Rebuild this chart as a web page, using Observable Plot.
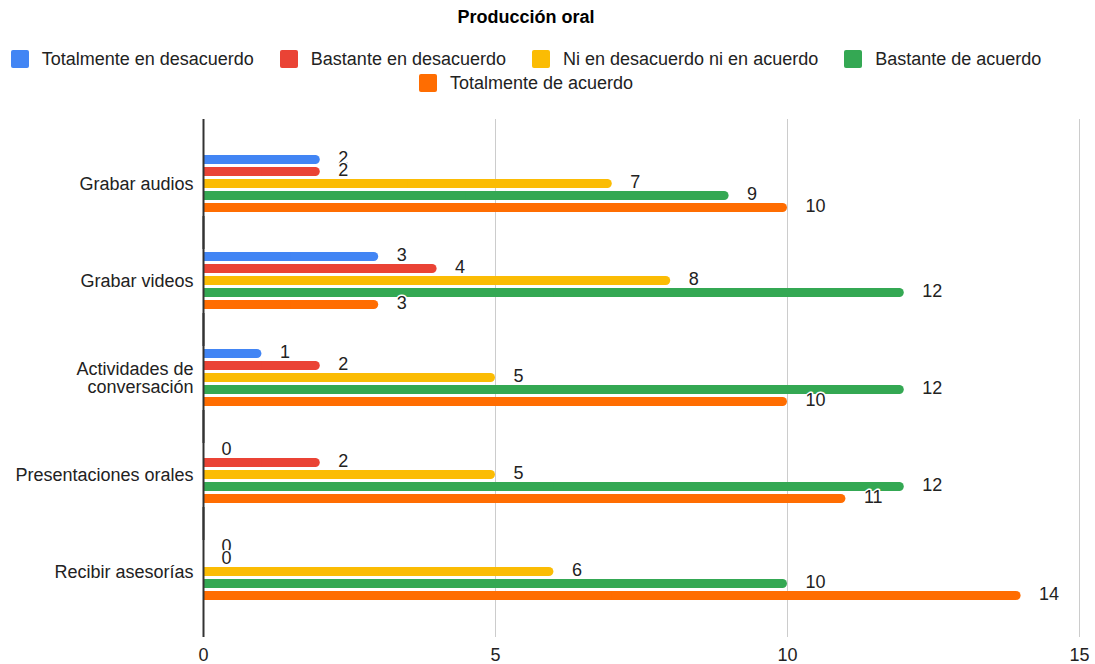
<!DOCTYPE html>
<html>
<head>
<meta charset="utf-8">
<script src="https://cdn.jsdelivr.net/npm/d3@7"></script>
<script src="https://cdn.jsdelivr.net/npm/@observablehq/plot@0.6"></script>
<style>
  html, body { margin: 0; padding: 0; background: #fff; }
  body { width: 1095px; height: 664px; overflow: hidden; font-family: "Liberation Sans", Arial, Helvetica, sans-serif; color: #222; }
  #title { width: 1052px; height: 34px; line-height: 34px; text-align: center; font-weight: bold; font-size: 18px; color: #000; }
  #legend { width: 1052px; height: 48px; margin-top: 13px; margin-bottom: 5px; display: flex; flex-wrap: wrap; justify-content: center; column-gap: 26px; font-size: 18px; }
  .item { display: flex; align-items: center; height: 24px; line-height: 24px; white-space: nowrap; }
  .swatch { width: 18px; height: 18px; border-radius: 2px; margin-right: 13px; }
  #chart svg { display: block; }
</style>
</head>
<body>
<div id="title">Producción oral</div>
<div id="legend"></div>
<div id="chart"></div>
<script>
// Activities rated in the survey
const categories = [
  "Grabar audios",
  "Grabar videos",
  "Actividades de\nconversación",
  "Presentaciones orales",
  "Recibir asesorías"
];

// Answer options (series) and their colours
const series = [
  "Totalmente en desacuerdo",
  "Bastante en desacuerdo",
  "Ni en desacuerdo ni en acuerdo",
  "Bastante de acuerdo",
  "Totalmente de acuerdo"
];
const colors = ["#4285F4", "#EA4335", "#FBBC04", "#34A853", "#FF6D01"];

// Number of answers per activity, one array per option
const totalmenteDesacuerdo = [2, 3, 1, 0, 0];
const bastanteDesacuerdo   = [2, 4, 2, 2, 0];
const niDesacuerdoNiAcuerdo = [7, 8, 5, 5, 6];
const bastanteAcuerdo      = [9, 12, 12, 12, 10];
const totalmenteAcuerdo    = [10, 3, 10, 11, 14];

const xTicks = [0, 5, 10, 15];
const gridTicks = [5, 10, 15];

const seriesValues = [
  totalmenteDesacuerdo,
  bastanteDesacuerdo,
  niDesacuerdoNiAcuerdo,
  bastanteAcuerdo,
  totalmenteAcuerdo
];

const data = [];
categories.forEach((category, i) => {
  series.forEach((s, j) => {
    data.push({category, series: s, value: seriesValues[j][i]});
  });
});

// Legend
const legend = document.getElementById("legend");
series.forEach((s, j) => {
  const item = document.createElement("div");
  item.className = "item";
  const sw = document.createElement("div");
  sw.className = "swatch";
  sw.style.background = colors[j];
  const label = document.createElement("span");
  label.textContent = s;
  item.appendChild(sw);
  item.appendChild(label);
  legend.appendChild(item);
});

const font = "'Liberation Sans', Arial, Helvetica, sans-serif";

const chart = Plot.plot({
  width: 1095,
  height: 564,
  marginLeft: 203,
  marginRight: 16,
  marginTop: 34,
  marginBottom: 44,
  style: {fontFamily: font, fontSize: "18px", color: "#222", background: "#fff", overflow: "visible"},
  x: {domain: [0, 15], ticks: xTicks, tickSize: 0, tickPadding: 28, label: null},
  y: {domain: series, axis: null, paddingInner: 0.22, paddingOuter: 1.63},
  fy: {domain: categories, axis: "left", padding: 0, tickSize: 0, tickPadding: 10, label: null},
  color: {domain: series, range: colors},
  marks: [
    // vertical grid lines, stretched a little beyond the bars
    Plot.ruleX(gridTicks, {stroke: "#cccccc", strokeWidth: 1, insetTop: -16, insetBottom: -17}),
    // rounded bars
    Plot.barX(data, {x: "value", y: "series", fy: "category", fill: "series", rx: 4.5}),
    // square off the left end of each bar against the axis
    Plot.barX(data, {x1: 0, x2: d => d.value / 2, y: "series", fy: "category", fill: "series"}),
    // baseline at zero
    Plot.ruleX([0], {stroke: "#333", strokeWidth: 2, insetTop: -16, insetBottom: -17}),
    // value labels
    Plot.text(data, {
      x: "value", y: "series", fy: "category",
      text: d => String(d.value),
      textAnchor: "start", dx: 18, dy: -2,
      fill: "#222", stroke: "#fff", strokeWidth: 3,
      fontSize: 18
    })
  ]
});

document.getElementById("chart").appendChild(chart);
</script>
</body>
</html>
